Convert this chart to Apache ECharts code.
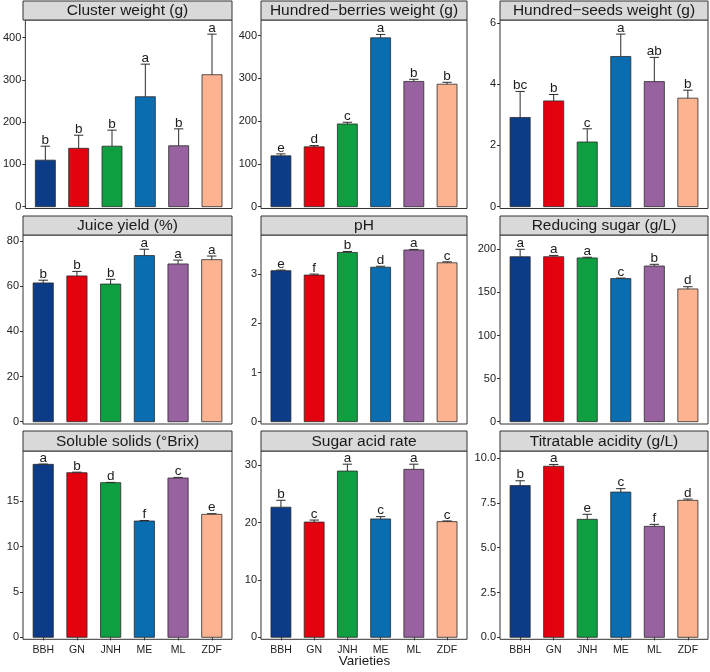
<!DOCTYPE html>
<html><head><meta charset="utf-8">
<script src="https://cdn.jsdelivr.net/npm/echarts@6/dist/echarts.min.js"></script>
<style>html,body{margin:0;padding:0;background:#fff}#c{width:710px;height:672px}</style>
</head><body><div id="c"></div>
<script>
// ---------------- data ----------------
const varieties = ['BBH', 'GN', 'JNH', 'ME', 'ML', 'ZDF'];

const clusterMean = [110, 138, 143, 260, 144, 312];
const clusterSd = [33, 31, 38, 77, 40, 96];
const clusterLetters = ['b', 'b', 'b', 'a', 'b', 'a'];
const clusterTicks = [0, 100, 200, 300, 400];

const berriesMean = [119, 140, 193.5, 395, 293, 286.5];
const berriesSd = [4.5, 3, 4, 8, 5, 4.5];
const berriesLetters = ['e', 'd', 'c', 'a', 'b', 'b'];
const berriesTicks = [0, 100, 200, 300, 400];

const seedsMean = [2.91, 3.45, 2.11, 4.90, 4.08, 3.54];
const seedsSd = [0.85, 0.21, 0.43, 0.73, 0.79, 0.26];
const seedsLetters = ['bc', 'b', 'c', 'a', 'ab', 'b'];
const seedsTicks = [0, 2, 4, 6];

const juiceMean = [61.4, 64.5, 60.9, 73.5, 69.8, 71.7];
const juiceSd = [1.2, 2.0, 2.1, 2.8, 1.7, 1.6];
const juiceLetters = ['b', 'b', 'b', 'a', 'a', 'a'];
const juiceTicks = [0, 20, 40, 60, 80];

const phMean = [3.07, 2.98, 3.44, 3.14, 3.49, 3.23];
const phSd = [0.012, 0.02, 0.02, 0.02, 0.012, 0.02];
const phLetters = ['e', 'f', 'b', 'd', 'a', 'c'];
const phTicks = [0, 1, 2, 3];

const sugarMean = [191.4, 191.4, 190, 166, 180.6, 154];
const sugarSd = [8.6, 1.5, 0.8, 0.6, 2, 2.6];
const sugarLetters = ['a', 'a', 'a', 'c', 'b', 'd'];
const sugarTicks = [0, 50, 100, 150, 200];

const solidsMean = [19.07, 18.15, 17.05, 12.82, 17.56, 13.56];
const solidsSd = [0.03, 0.06, 0.03, 0.06, 0.07, 0.07];
const solidsLetters = ['a', 'b', 'd', 'f', 'c', 'e'];
const solidsTicks = [0, 5, 10, 15];

const rateMean = [22.7, 20.1, 29.0, 20.65, 29.3, 20.18];
const rateSd = [1.2, 0.35, 1.2, 0.4, 0.9, 0.12];
const rateLetters = ['b', 'c', 'a', 'c', 'a', 'c'];
const rateTicks = [0, 10, 20, 30];

const acidityMean = [8.46, 9.54, 6.58, 8.10, 6.19, 7.64];
const aciditySd = [0.27, 0.1, 0.28, 0.19, 0.11, 0.07];
const acidityLetters = ['b', 'a', 'e', 'c', 'f', 'd'];
const acidityTicks = [0, 2.5, 5, 7.5, 10];

const panelTitles = ['Cluster weight (g)', 'Hundred\u2212berries weight (g)', 'Hundred\u2212seeds weight (g)',
  'Juice yield (%)', 'pH', 'Reducing sugar (g/L)',
  'Soluble solids (\u00B0Brix)', 'Sugar acid rate', 'Titratable acidity (g/L)'];

// ---------------- panels ----------------
const panels = [
  {mean: clusterMean, sd: clusterSd, letters: clusterLetters, ticks: clusterTicks, min: -4.3, max: 441.4, dec: 0},
  {mean: berriesMean, sd: berriesSd, letters: berriesLetters, ticks: berriesTicks, min: -4.2, max: 436.7, dec: 0},
  {mean: seedsMean, sd: seedsSd, letters: seedsLetters, ticks: seedsTicks, min: -0.06, max: 6.09, dec: 0},
  {mean: juiceMean, sd: juiceSd, letters: juiceLetters, ticks: juiceTicks, min: -1.0, max: 82.6, dec: 0},
  {mean: phMean, sd: phSd, letters: phLetters, ticks: phTicks, min: -0.047, max: 3.795, dec: 0},
  {mean: sugarMean, sd: sugarSd, letters: sugarLetters, ticks: sugarTicks, min: -2.7, max: 216.6, dec: 0},
  {mean: solidsMean, sd: solidsSd, letters: solidsLetters, ticks: solidsTicks, min: -0.22, max: 20.54, dec: 0},
  {mean: rateMean, sd: rateSd, letters: rateLetters, ticks: rateTicks, min: -0.35, max: 32.5, dec: 0},
  {mean: acidityMean, sd: aciditySd, letters: acidityLetters, ticks: acidityTicks, min: -0.11, max: 10.39, dec: 1}
];

const colors = ['#0c3b87', '#e3000f', '#0f9e40', '#0a6db0', '#98619f', '#fdb38f'];
const FONT = '"Liberation Sans", Arial, Helvetica, sans-serif';

// layout (pixels)
const colLeft = [23, 261, 500];
const colWidth = [209, 206, 208];
const stripTop = [1, 216, 431];
const stripBottom = [20, 235, 451];
const panelBottom = [208.5, 424, 639.3];

const grids = [], xAxes = [], yAxes = [], series = [], graphics = [];

panels.forEach((p, i) => {
  const r = Math.floor(i / 3), c = i % 3;
  const bottomRow = r === 2;
  grids.push({
    left: colLeft[c], top: stripBottom[r], width: colWidth[c],
    height: panelBottom[r] - stripBottom[r],
    show: true, borderColor: '#333', borderWidth: 1, backgroundColor: '#fff', containLabel: false
  });
  xAxes.push({
    gridIndex: i, type: 'value', min: 0.4, max: 6.6,
    axisLine: {show: false}, splitLine: {show: false},
    axisTick: {show: bottomRow, length: 3, lineStyle: {color: '#333'}, customValues: [1, 2, 3, 4, 5, 6]},
    axisLabel: {show: bottomRow, customValues: [1, 2, 3, 4, 5, 6], margin: 5,
      formatter: v => varieties[Math.round(v) - 1] || '', color: '#222', fontSize: 10.5, fontFamily: FONT}
  });
  yAxes.push({
    gridIndex: i, type: 'value', min: p.min, max: p.max,
    axisLine: {show: false}, splitLine: {show: false},
    axisTick: {show: true, length: 3, lineStyle: {color: '#333'}, customValues: p.ticks},
    axisLabel: {show: true, customValues: p.ticks, margin: 4,
      formatter: v => Number(v).toFixed(p.dec), color: '#222', fontSize: 11, fontFamily: FONT}
  });
  const data = p.mean.map((m, k) => [k + 1, m, p.sd[k]]);
  series.push({
    type: 'custom', xAxisIndex: i, yAxisIndex: i, data: data,
    encode: {x: 0, y: 1}, clip: false,
    renderItem: (params, api) => {
      const k = params.dataIndex;
      const x = api.value(0), m = api.value(1), s = api.value(2);
      const p0 = api.coord([x - 0.3, 0]);
      const p1 = api.coord([x + 0.3, m]);
      const base = api.coord([x, m]);
      const top = api.coord([x, m + s]);
      const cl = api.coord([x - 0.14, m + s]);
      const cr = api.coord([x + 0.14, m + s]);
      return {type: 'group', children: [
        {type: 'rect', shape: {x: p0[0], y: p1[1], width: p1[0] - p0[0], height: p0[1] - p1[1]},
          style: {fill: colors[k], stroke: '#2b2b2b', lineWidth: 0.8}},
        {type: 'line', shape: {x1: base[0], y1: base[1], x2: top[0], y2: top[1]},
          style: {stroke: '#2b2b2b', lineWidth: 1}},
        {type: 'line', shape: {x1: cl[0], y1: cl[1], x2: cr[0], y2: cr[1]},
          style: {stroke: '#2b2b2b', lineWidth: 1}},
        {type: 'text', style: {text: p.letters[k], x: top[0], y: top[1] + 1, align: 'center',
          verticalAlign: 'bottom', font: '13.5px ' + FONT, fill: '#1a1a1a'}}
      ]};
    }
  });
  // strip
  graphics.push({
    type: 'rect', shape: {x: colLeft[c], y: stripTop[r], width: colWidth[c], height: stripBottom[r] - stripTop[r]},
    style: {fill: '#d9d9d9', stroke: '#333', lineWidth: 1}, z: 10
  });
  graphics.push({
    type: 'text', x: colLeft[c] + colWidth[c] / 2, y: (stripTop[r] + stripBottom[r]) / 2 + 0.5, z: 11,
    style: {text: panelTitles[i], align: 'center', verticalAlign: 'middle', font: '15.5px ' + FONT, fill: '#1a1a1a'}
  });
});

graphics.push({
  type: 'text', x: 364.5, y: 661, z: 11,
  style: {text: 'Varieties', align: 'center', verticalAlign: 'middle', font: '13.5px ' + FONT, fill: '#1a1a1a'}
});

const chart = echarts.init(document.getElementById('c'), null, {renderer: 'canvas'});
chart.setOption({
  animation: false,
  backgroundColor: '#fff',
  grid: grids, xAxis: xAxes, yAxis: yAxes, series: series, graphic: graphics
});
</script></body></html>
